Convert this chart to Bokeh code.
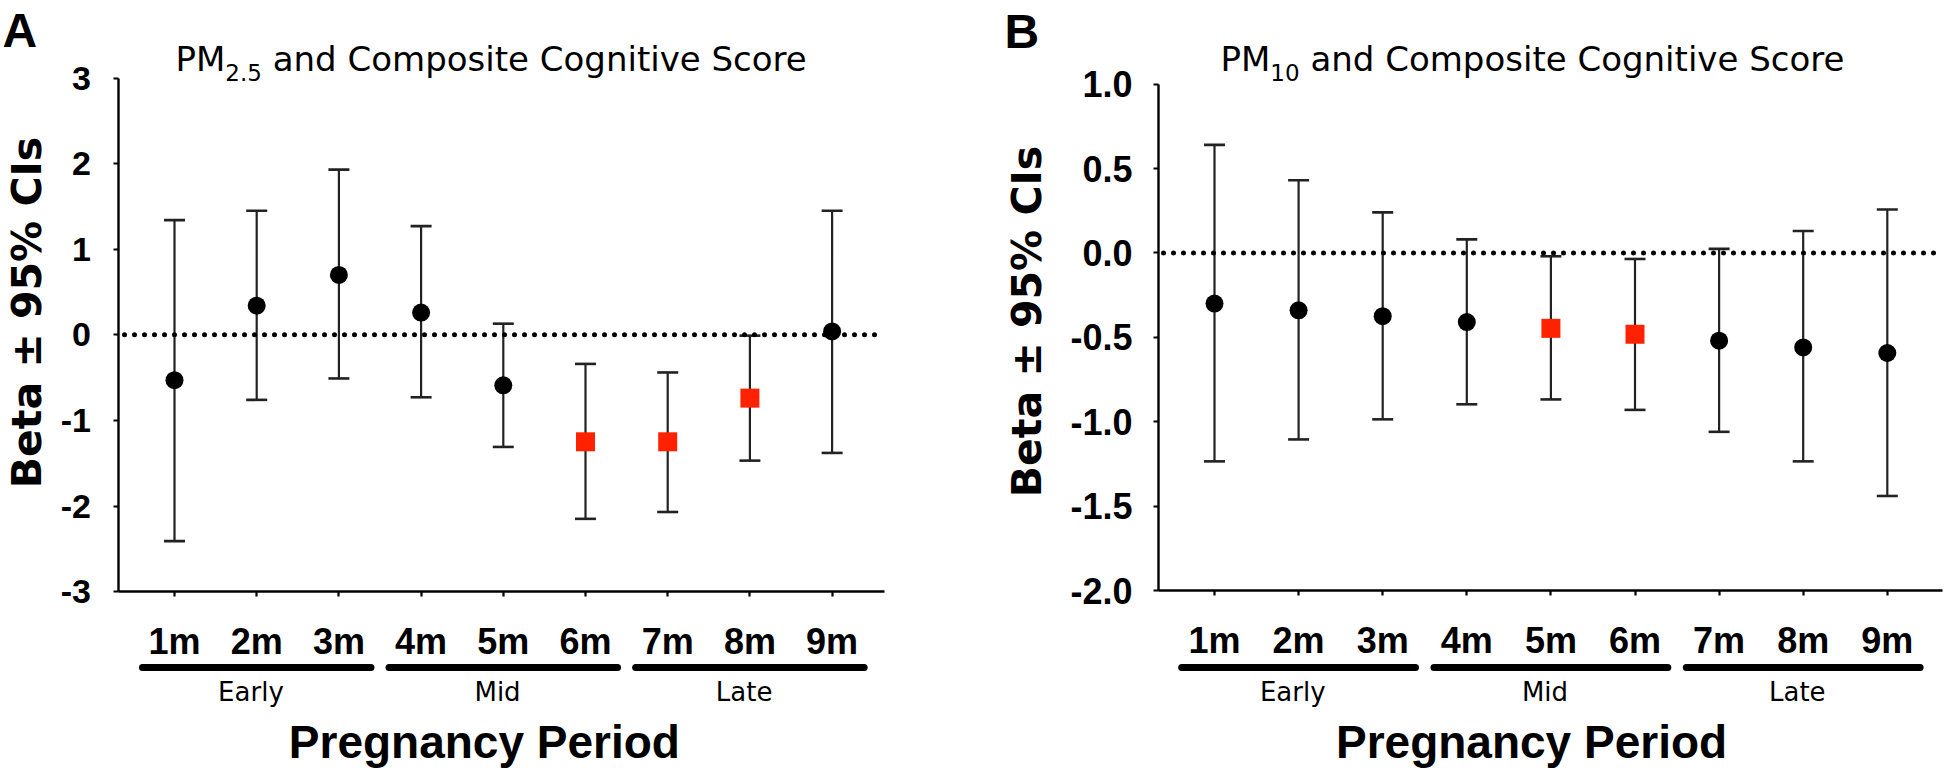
import math
from bokeh.plotting import figure
from bokeh.models import (LinearAxis, FixedTicker, Label, Whisker, TeeHead,
                          ColumnDataSource, Range1d, PrintfTickFormatter)
from bokeh.layouts import row
from bokeh.core.properties import value
from bokeh.embed import file_html
from bokeh.resources import INLINE

# ---------------- data ----------------
months = ["1m", "2m", "3m", "4m", "5m", "6m", "7m", "8m", "9m"]
month_pos = [1, 2, 3, 4, 5, 6, 7, 8, 9]
periods = ["Early", "Mid", "Late"]
period_first = [1, 4, 7]
period_last = [3, 6, 9]

pm25_beta = [-0.53, 0.34, 0.70, 0.26, -0.59, -1.25, -1.25, -0.74, 0.04]
pm25_lower = [-2.41, -0.76, -0.51, -0.73, -1.31, -2.15, -2.07, -1.47, -1.38]
pm25_upper = [1.34, 1.45, 1.93, 1.27, 0.13, -0.34, -0.44, -0.01, 1.45]
pm25_sig = [False, False, False, False, False, True, True, True, False]
pm25_ticks = [-3, -2, -1, 0, 1, 2, 3]

pm10_beta = [-0.30, -0.34, -0.375, -0.41, -0.447, -0.482, -0.52, -0.56, -0.593]
pm10_lower = [-1.235, -1.105, -0.986, -0.897, -0.868, -0.93, -1.06, -1.235, -1.44]
pm10_upper = [0.64, 0.43, 0.24, 0.08, -0.02, -0.036, 0.024, 0.13, 0.257]
pm10_sig = [False, False, False, False, True, True, False, False, False]
pm10_ticks = [-2.0, -1.5, -1.0, -0.5, 0.0, 0.5, 1.0]

H = 772
TOP = 0
RED = "#ff2200"
BOLD_FONT = "Liberation Sans"
TITLE_FONT = "DejaVu Sans"


def make_panel(letter, sub, beta, lower, upper, sig, ticks, fmt, cfg):
    page_left, width = cfg["page_left"], cfg["width"]
    cat0, step = cfg["cat0"], cfg["step"]
    zero_y, unit = cfg["zero_y"], cfg["unit"]

    def cx(px):
        return 1 + (px - cat0) / step

    def vy(py):
        return (zero_y - py) / unit

    ymin, ymax = min(ticks), max(ticks)
    p = figure(width=width, height=H,
               x_range=Range1d(cx(page_left), cx(page_left + width)),
               y_range=Range1d(vy(TOP + H), vy(TOP)),
               output_backend="svg", toolbar_location=None,
               x_axis_location=None, y_axis_location=None,
               min_border=0, outline_line_color=None,
               background_fill_color="white", border_fill_color="white")
    for g in p.grid:
        g.visible = False

    x_axis_pos = cx(cfg["yaxis_px"])

    # y axis
    yax = LinearAxis(fixed_location=x_axis_pos, bounds=(ymin, ymax),
                     ticker=FixedTicker(ticks=ticks),
                     formatter=PrintfTickFormatter(format=fmt),
                     axis_line_width=2.4, axis_line_color="black",
                     major_tick_line_width=2.2, major_tick_out=5, major_tick_in=0,
                     minor_tick_out=0, minor_tick_in=0,
                     major_label_standoff=cfg["ylab_standoff"],
                     major_label_text_font=BOLD_FONT,
                     major_label_text_font_style="bold",
                     major_label_text_font_size=cfg["ytick_size"],
                     major_label_text_color="black")
    p.add_layout(yax, "left")

    # x axis
    xax = LinearAxis(fixed_location=ymin,
                     bounds=(x_axis_pos, cx(cfg["xaxis_end_px"])),
                     ticker=FixedTicker(ticks=month_pos),
                     major_label_overrides={m: lab for m, lab in zip(month_pos, months)},
                     axis_line_width=2.6, axis_line_color="black",
                     major_tick_line_width=2.2, major_tick_out=5, major_tick_in=0,
                     minor_tick_out=0, minor_tick_in=0,
                     major_label_standoff=24,
                     major_label_text_font=BOLD_FONT,
                     major_label_text_font_style="bold",
                     major_label_text_font_size="36px",
                     major_label_text_color="black")
    p.add_layout(xax, "below")

    # dotted zero line
    p.line(x=[cx(cfg["dot_start_px"]), cx(cfg["dot_end_px"])], y=[0, 0],
           line_color="black", line_width=5, line_dash="0 10", line_cap="round")

    # error bars
    src = ColumnDataSource(dict(x=month_pos, beta=beta, lower=lower, upper=upper))
    head = dict(size=21, line_width=2.6, line_color="#222222")
    p.add_layout(Whisker(base="x", upper="upper", lower="lower", source=src,
                         dimension="height", line_width=2.2, line_color="#222222",
                         upper_head=TeeHead(**head), lower_head=TeeHead(**head)))

    # points
    ns = ColumnDataSource(dict(x=[m for m, s in zip(month_pos, sig) if not s],
                               y=[b for b, s in zip(beta, sig) if not s]))
    ss = ColumnDataSource(dict(x=[m for m, s in zip(month_pos, sig) if s],
                               y=[b for b, s in zip(beta, sig) if s]))
    p.scatter("x", "y", source=ns, marker="circle", size=18,
              fill_color="black", line_color=None)
    p.scatter("x", "y", source=ss, marker="square", size=19,
              fill_color=RED, line_color=None)

    # period bars and labels
    bar_y = vy(667)
    p.segment(x0=[f - 0.39 for f in period_first], y0=[bar_y] * 3,
              x1=[l + 0.39 for l in period_last], y1=[bar_y] * 3,
              line_color="black", line_width=7, line_cap="round")
    p.text(x=[(f + l) / 2 - 0.07 for f, l in zip(period_first, period_last)],
           y=[vy(691)] * 3, text=periods,
           text_font=value(TITLE_FONT), text_font_size="26px",
           text_align="center", text_baseline="middle", text_color="black")

    # x axis title
    p.add_layout(Label(x=4.77, y=vy(741), text="Pregnancy Period",
                       text_font=BOLD_FONT, text_font_style="bold",
                       text_font_size="46px", text_align="center",
                       text_baseline="middle", text_color="black"))

    # y axis title
    p.add_layout(Label(x=cx(cfg["ylabel_px"][0]), y=vy(cfg["ylabel_px"][1]),
                       text="Beta \u00b1 95% CIs", angle=math.pi / 2,
                       text_font=TITLE_FONT, text_font_style="bold",
                       text_font_size="41px", text_align="center",
                       text_baseline="middle", text_color="black"))

    # panel letter
    p.add_layout(Label(x=cx(cfg["letter_px"][0]), y=vy(cfg["letter_px"][1]),
                       text=letter, text_font=BOLD_FONT, text_font_style="bold",
                       text_font_size="48px", text_align="left",
                       text_baseline="middle", text_color="black"))

    # title with subscript
    tsize, ssize = 34, 23
    w_pm = (0.603 + 0.863) * tsize
    w_sub = sum({"1": 0.636, "0": 0.636, "2": 0.636, "5": 0.636, ".": 0.318}[c]
                for c in sub) * ssize
    w_space = 0.318 * tsize
    tx, ty = cfg["title_px"]
    common = dict(text_font=TITLE_FONT, text_align="left",
                  text_baseline="middle", text_color="black")
    p.add_layout(Label(x=cx(tx), y=vy(ty), text="PM",
                       text_font_size=f"{tsize}px", **common))
    p.add_layout(Label(x=cx(tx + w_pm), y=vy(ty + 14), text=sub,
                       text_font_size=f"{ssize}px", **common))
    p.add_layout(Label(x=cx(tx + w_pm + w_sub + w_space), y=vy(ty),
                       text="and Composite Cognitive Score",
                       text_font_size=f"{tsize}px", **common))
    return p


cfg_a = dict(page_left=0, width=990, cat0=174.0, step=82.2,
             zero_y=334.3, unit=85.6, yaxis_px=117.5, xaxis_end_px=884,
             dot_start_px=124, dot_end_px=879, ylab_standoff=22,
             ytick_size="34px", ylabel_px=(26, 312), letter_px=(2, 30),
             title_px=(175, 58))
cfg_b = dict(page_left=990, width=954, cat0=1214.0, step=84.1,
             zero_y=252.4, unit=168.8, yaxis_px=1158, xaxis_end_px=1942,
             dot_start_px=1163, dot_end_px=1942, ylab_standoff=21,
             ytick_size="36px", ylabel_px=(1026, 321), letter_px=(1004, 31),
             title_px=(1220, 58))

pa = make_panel("A", "2.5", pm25_beta, pm25_lower, pm25_upper, pm25_sig,
                pm25_ticks, "%d", cfg_a)
pb = make_panel("B", "10", pm10_beta, pm10_lower, pm10_upper, pm10_sig,
                pm10_ticks, "%.1f", cfg_b)

layout = row(pa, pb)
open("out.html", "w").write(file_html(layout, INLINE))
